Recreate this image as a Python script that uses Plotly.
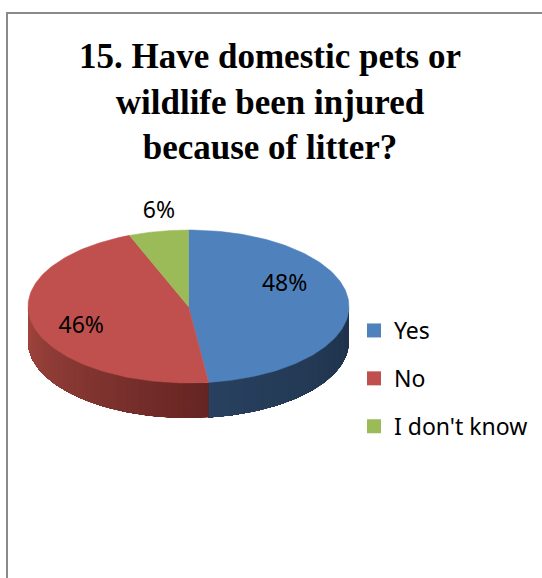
import numpy as np
import plotly.graph_objects as go

# ---- data ----
categories = ["Yes", "No", "I don't know"]
values = [48, 46, 6]
labels = ["48%", "46%", "6%"]
title_text = "15. Have domestic pets or<br>wildlife been injured<br>because of litter?"

# ---- style ----
W, H = 542, 578
top_colors = ["#4F81BD", "#C0504D", "#9BBB59"]
# side shading: (colour at start angle, colour at end angle), clockwise from top
side_colors = [("#1F324B", "#28415F"), ("#652523", "#A3473F"), ("#5F7532", "#7E9A45")]
CX, CY, RX, RY, DEPTH = 188.5, 306.5, 160.5, 76.5, 35
label_style = [(0.60, 0, -18), (0.69, 0, 8), (1.25, 8, 0)]  # radial factor, dx, dy
FONT_SANS = "Noto Sans"


def hex2rgb(h):
    h = h.lstrip("#")
    return [int(h[i:i + 2], 16) for i in (0, 2, 4)]


def mix(c1, c2, t):
    a, b = hex2rgb(c1), hex2rgb(c2)
    return "rgb(%d,%d,%d)" % tuple(round(a[i] + (b[i] - a[i]) * t) for i in range(3))


def ell(theta_deg, dy=0.0, r=1.0):
    t = np.radians(theta_deg)
    return CX + RX * r * np.sin(t), CY - RY * r * np.cos(t) + dy


fig = go.Figure()

total = float(sum(values))
bounds = np.concatenate([[0], np.cumsum(values)]) / total * 360.0

# side walls (front half only: 90..270 deg clockwise from top), painted as
# overlapping bands so the shading gradient has no seams
for i in range(len(values)):
    a0, a1 = max(bounds[i], 90.0), min(bounds[i + 1], 270.0)
    if a1 <= a0:
        continue
    steps = np.linspace(a0, a1, max(2, int((a1 - a0) / 1.0) + 1))
    for k in range(len(steps) - 1):
        s0 = steps[k]
        th = np.linspace(s0, a1, max(3, int((a1 - s0) / 1.0) + 2))
        xt, yt = ell(th)
        xb, yb = ell(th[::-1], DEPTH)
        t = (s0 - a0) / max(a1 - a0, 1e-9)
        col = mix(side_colors[i][0], side_colors[i][1], t)
        fig.add_trace(go.Scatter(
            x=np.concatenate([xt, xb, xt[:1]]), y=np.concatenate([yt, yb, yt[:1]]),
            mode="lines", fill="toself", fillcolor=col,
            line=dict(color=col, width=0), hoverinfo="skip", showlegend=False))

# top faces
for i in range(len(values)):
    th = np.linspace(bounds[i], bounds[i + 1], 120)
    xs, ys = ell(th)
    x = np.concatenate([[CX], xs, [CX]])
    y = np.concatenate([[CY], ys, [CY]])
    fig.add_trace(go.Scatter(
        x=x, y=y, mode="lines", fill="toself", fillcolor=top_colors[i],
        line=dict(color=top_colors[i], width=0.5), hoverinfo="text",
        text="%s: %s" % (categories[i], labels[i]), showlegend=False))

# data labels
lx, ly = [], []
for i in range(len(values)):
    mid = 0.5 * (bounds[i] + bounds[i + 1])
    r, dx, dy = label_style[i]
    x, y = ell(mid, dy, r)
    lx.append(x + dx)
    ly.append(y)
fig.add_trace(go.Scatter(x=lx, y=ly, mode="text", text=labels,
                         textfont=dict(family=FONT_SANS, size=23, color="#000000"),
                         hoverinfo="skip", showlegend=False))

# legend entries
for i, c in enumerate(categories):
    fig.add_trace(go.Scatter(x=[None], y=[None], mode="markers", name=c,
                             legendgroup=c,
                             marker=dict(symbol="square", size=14, color=top_colors[i])))

# chart-area border (left and top edges visible)
fig.add_shape(type="line", x0=7, x1=7, y0=H + 5, y1=12,
              line=dict(color="#8A8A8A", width=2))
fig.add_shape(type="line", x0=6, x1=W + 5, y0=13, y1=13,
              line=dict(color="#8A8A8A", width=2))

fig.update_layout(
    width=W, height=H,
    margin=dict(l=0, r=0, t=0, b=0),
    paper_bgcolor="white", plot_bgcolor="white",
    xaxis=dict(range=[0, W], visible=False, fixedrange=True),
    yaxis=dict(range=[H, 0], visible=False, fixedrange=True),
    title=dict(text="<b>" + title_text + "</b>", x=270 / W, xanchor="center",
               y=1 - 68 / H, yanchor="top", yref="container",
               font=dict(family="Liberation Serif", size=35, color="#000000")),
    legend=dict(x=354 / W, xanchor="left", y=1 - 309 / H, yanchor="top",
                font=dict(family=FONT_SANS, size=23, color="#000000"),
                tracegroupgap=15, itemwidth=30, bgcolor="rgba(0,0,0,0)"),
    showlegend=True,
)

fig.write_html("out.html")
